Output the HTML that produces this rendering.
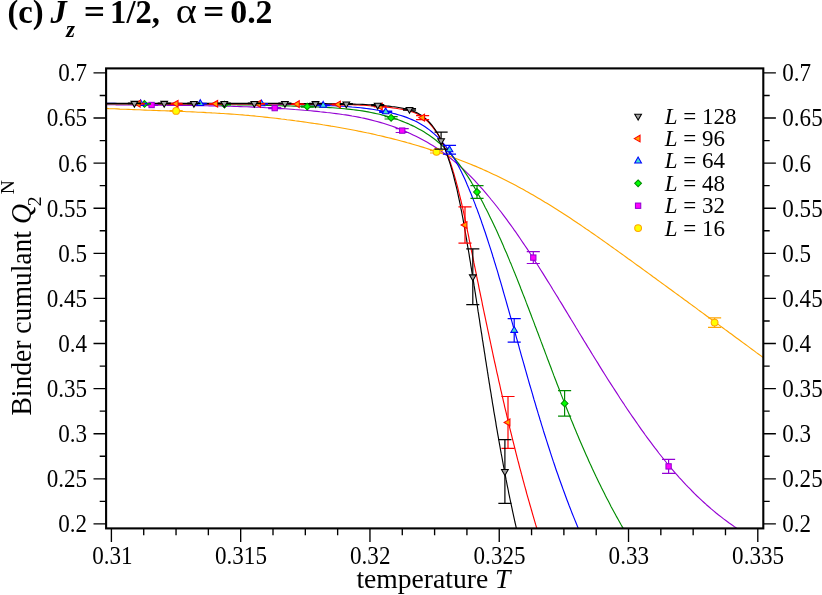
<!DOCTYPE html>
<html><head><meta charset="utf-8"><title>Binder cumulant</title>
<style>
html,body{margin:0;padding:0;background:#fff;}
body{width:822px;height:595px;overflow:hidden;position:relative;font-family:"Liberation Serif",serif;}
svg text{white-space:pre;}
</style></head><body>
<svg width="822" height="595" viewBox="0 0 822 595" style="position:absolute;left:0;top:0;will-change:transform;opacity:0.999">
<rect x="0" y="0" width="822" height="595" fill="#ffffff"/>
<defs><clipPath id="cp"><rect x="106.10" y="68.40" width="657.20" height="460.00"/></clipPath></defs>
<g clip-path="url(#cp)">
<path d="M106.0,108.4 108.8,108.6 111.6,108.7 114.4,108.8 117.1,108.9 119.9,109.1 122.7,109.2 125.5,109.3 128.3,109.4 131.1,109.5 133.9,109.6 136.7,109.7 139.4,109.8 142.2,110.0 145.0,110.1 147.8,110.2 150.6,110.3 153.4,110.4 156.2,110.5 159.0,110.6 161.7,110.7 164.5,110.8 167.3,110.9 170.1,111.0 172.9,111.1 175.7,111.2 178.5,111.3 181.3,111.4 184.1,111.5 186.8,111.7 189.6,111.8 192.4,111.9 195.2,112.0 198.0,112.2 200.8,112.3 203.6,112.4 206.3,112.6 209.1,112.7 211.9,112.9 214.7,113.0 217.5,113.2 220.3,113.4 223.1,113.5 225.8,113.7 228.6,113.9 231.4,114.1 234.2,114.3 237.0,114.5 239.7,114.7 242.5,114.9 245.3,115.2 248.1,115.4 250.9,115.7 253.6,115.9 256.4,116.2 259.2,116.5 262.0,116.8 264.7,117.1 267.5,117.4 270.3,117.7 273.1,118.0 275.8,118.3 278.6,118.6 281.4,119.0 284.1,119.3 286.9,119.7 289.7,120.0 292.4,120.4 295.2,120.8 298.0,121.1 300.7,121.5 303.5,121.9 306.3,122.3 309.0,122.7 311.8,123.1 314.5,123.5 317.3,123.9 320.0,124.3 322.8,124.8 325.5,125.2 328.3,125.6 331.1,126.1 333.8,126.5 336.5,127.0 339.3,127.5 342.0,128.0 344.8,128.5 347.5,129.0 350.3,129.5 353.0,130.0 355.7,130.5 358.5,131.1 361.2,131.6 363.9,132.2 366.7,132.8 369.4,133.3 372.1,133.9 374.9,134.5 377.6,135.2 380.3,135.8 383.0,136.4 385.7,137.1 388.4,137.7 391.2,138.4 393.9,139.1 396.6,139.8 399.3,140.5 402.0,141.2 404.7,141.9 407.4,142.7 410.1,143.4 412.7,144.2 415.4,145.0 418.1,145.8 420.8,146.6 423.5,147.4 426.1,148.2 428.8,149.1 431.4,149.9 434.1,150.8 436.7,151.7 439.4,152.6 442.0,153.5 444.7,154.4 447.3,155.3 449.9,156.3 452.5,157.2 455.2,158.2 457.8,159.2 460.4,160.2 463.0,161.2 465.6,162.2 468.1,163.2 470.7,164.3 473.3,165.4 475.9,166.4 478.4,167.5 481.0,168.6 483.5,169.8 486.1,170.9 488.6,172.0 491.1,173.2 493.7,174.4 496.2,175.6 498.7,176.8 501.2,178.0 503.7,179.2 506.2,180.5 508.6,181.7 511.1,183.0 513.6,184.3 516.0,185.6 518.5,186.9 520.9,188.3 523.4,189.6 525.8,191.0 528.2,192.3 530.6,193.7 533.1,195.1 535.5,196.5 537.9,197.9 540.3,199.3 542.6,200.7 545.0,202.2 547.4,203.6 549.8,205.1 552.2,206.6 554.5,208.0 556.9,209.5 559.2,211.0 561.6,212.5 563.9,214.0 566.3,215.6 568.6,217.1 570.9,218.6 573.3,220.2 575.6,221.7 577.9,223.3 580.2,224.8 582.5,226.4 584.8,228.0 587.1,229.6 589.4,231.1 591.7,232.7 594.0,234.3 596.3,235.9 598.6,237.5 600.9,239.1 603.2,240.8 605.5,242.4 607.8,244.0 610.0,245.6 612.3,247.2 614.6,248.9 616.9,250.5 619.1,252.1 621.4,253.7 623.7,255.4 625.9,257.0 628.2,258.7 630.5,260.3 632.7,261.9 635.0,263.6 637.2,265.2 639.5,266.8 641.8,268.5 644.0,270.1 646.3,271.8 648.5,273.4 650.8,275.0 653.0,276.7 655.3,278.3 657.5,280.0 659.8,281.6 662.0,283.3 664.3,284.9 666.5,286.5 668.8,288.2 671.0,289.8 673.3,291.5 675.5,293.1 677.8,294.8 680.0,296.4 682.3,298.0 684.5,299.7 686.8,301.3 689.0,303.0 691.3,304.6 693.5,306.3 695.8,307.9 698.0,309.6 700.2,311.2 702.5,312.9 704.7,314.5 707.0,316.2 709.2,317.8 711.5,319.5 713.7,321.1 716.0,322.8 718.2,324.4 720.5,326.1 722.7,327.7 724.9,329.4 727.2,331.0 729.4,332.7 731.7,334.3 733.9,336.0 736.2,337.7 738.4,339.3 740.7,341.0 742.9,342.6 745.2,344.3 747.4,345.9 749.7,347.6 751.9,349.2 754.2,350.9 756.4,352.6 758.7,354.2 761.0,355.9 763.2,357.5" fill="none" stroke="#ffa500" stroke-width="1.15" stroke-linejoin="round"/>
<path d="M106.0,104.6 109.2,104.7 112.4,104.7 115.6,104.8 118.8,104.8 122.0,104.8 125.2,104.9 128.4,104.9 131.6,105.0 134.8,105.0 138.0,105.0 141.2,105.0 144.4,105.1 147.6,105.1 150.8,105.1 154.0,105.1 157.2,105.2 160.4,105.2 163.6,105.2 166.8,105.3 170.0,105.3 173.2,105.3 176.4,105.3 179.6,105.4 182.8,105.4 186.0,105.4 189.2,105.5 192.4,105.5 195.6,105.6 198.8,105.6 202.0,105.7 205.2,105.7 208.4,105.8 211.6,105.8 214.8,105.9 218.0,106.0 221.2,106.0 224.4,106.1 227.6,106.2 230.8,106.3 234.0,106.4 237.2,106.5 240.4,106.6 243.6,106.7 246.8,106.8 250.0,106.9 253.2,107.1 256.4,107.2 259.6,107.3 262.8,107.5 266.0,107.7 269.2,107.8 272.4,108.0 275.6,108.2 278.8,108.4 282.0,108.6 285.2,108.8 288.3,109.0 291.5,109.2 294.7,109.5 297.9,109.7 301.1,110.0 304.3,110.3 307.5,110.5 310.7,110.8 313.9,111.1 317.0,111.4 320.2,111.8 323.4,112.1 326.6,112.5 329.8,112.8 333.0,113.2 336.1,113.6 339.3,114.0 342.5,114.5 345.7,114.9 348.8,115.4 352.0,116.0 355.1,116.5 358.3,117.1 361.4,117.8 364.6,118.4 367.7,119.1 370.8,119.9 373.9,120.7 377.0,121.5 380.1,122.4 383.2,123.3 386.3,124.3 389.3,125.3 392.4,126.3 395.4,127.4 398.4,128.5 401.4,129.7 404.3,130.9 407.3,132.2 410.2,133.5 413.1,134.9 416.0,136.3 418.9,137.7 421.7,139.2 424.5,140.7 427.3,142.3 430.0,143.9 432.7,145.6 435.4,147.3 438.1,149.1 440.7,150.9 443.3,152.7 445.9,154.6 448.4,156.6 450.9,158.5 453.4,160.6 455.8,162.6 458.3,164.7 460.6,166.8 463.0,169.0 465.3,171.2 467.6,173.4 469.9,175.6 472.1,177.9 474.3,180.2 476.5,182.6 478.6,184.9 480.8,187.3 482.9,189.7 485.0,192.1 487.1,194.6 489.1,197.0 491.1,199.5 493.2,202.0 495.2,204.5 497.2,207.0 499.1,209.5 501.1,212.0 503.0,214.6 504.9,217.1 506.8,219.7 508.7,222.3 510.6,224.9 512.5,227.5 514.3,230.1 516.2,232.7 518.0,235.4 519.8,238.0 521.6,240.7 523.4,243.3 525.2,246.0 527.0,248.6 528.8,251.3 530.5,254.0 532.3,256.7 534.0,259.4 535.7,262.1 537.5,264.8 539.2,267.5 540.9,270.2 542.6,272.9 544.3,275.6 546.0,278.4 547.7,281.1 549.4,283.8 551.1,286.5 552.7,289.3 554.4,292.0 556.1,294.7 557.8,297.4 559.4,300.2 561.1,302.9 562.8,305.6 564.4,308.4 566.1,311.1 567.7,313.8 569.4,316.6 571.0,319.3 572.7,322.0 574.4,324.8 576.0,327.5 577.7,330.2 579.3,333.0 581.0,335.7 582.6,338.4 584.3,341.2 586.0,343.9 587.6,346.6 589.3,349.3 591.0,352.1 592.6,354.8 594.3,357.5 596.0,360.2 597.7,362.9 599.3,365.6 601.0,368.4 602.7,371.1 604.4,373.8 606.1,376.5 607.8,379.2 609.5,381.9 611.3,384.6 613.0,387.3 614.7,389.9 616.5,392.6 618.2,395.3 619.9,398.0 621.7,400.7 623.5,403.3 625.2,406.0 627.0,408.7 628.8,411.3 630.6,414.0 632.4,416.6 634.2,419.2 636.1,421.9 637.9,424.5 639.7,427.1 641.6,429.8 643.5,432.4 645.3,435.0 647.2,437.6 649.1,440.2 651.0,442.7 653.0,445.3 654.9,447.9 656.9,450.4 658.8,453.0 660.8,455.5 662.8,458.0 664.8,460.5 666.8,463.0 668.9,465.5 670.9,467.9 673.0,470.3 675.1,472.8 677.2,475.2 679.3,477.6 681.5,479.9 683.7,482.3 685.8,484.6 688.0,486.9 690.3,489.2 692.5,491.5 694.8,493.8 697.0,496.0 699.3,498.2 701.7,500.4 704.0,502.5 706.4,504.7 708.8,506.8 711.2,508.9 713.6,510.9 716.1,513.0 718.6,515.0 721.1,516.9 723.6,518.9 726.2,520.8 728.8,522.7 731.4,524.5 734.0,526.4 736.7,528.2 739.4,529.9" fill="none" stroke="#9400d3" stroke-width="1.15" stroke-linejoin="round"/>
<path d="M106.0,103.8 108.9,103.8 111.9,103.8 114.9,103.8 117.9,103.8 120.9,103.8 123.9,103.8 126.9,103.8 129.9,103.9 132.8,103.9 135.8,103.9 138.8,103.9 141.8,103.9 144.8,103.9 147.8,103.9 150.7,104.0 153.7,104.0 156.7,104.0 159.7,104.0 162.7,104.0 165.7,104.0 168.6,104.1 171.6,104.1 174.6,104.1 177.6,104.1 180.6,104.1 183.5,104.2 186.5,104.2 189.5,104.2 192.5,104.2 195.5,104.3 198.4,104.3 201.4,104.3 204.4,104.3 207.4,104.4 210.3,104.4 213.3,104.4 216.3,104.5 219.3,104.5 222.3,104.6 225.2,104.6 228.2,104.6 231.2,104.7 234.2,104.7 237.2,104.8 240.1,104.8 243.1,104.9 246.1,104.9 249.1,105.0 252.1,105.0 255.0,105.1 258.0,105.2 261.0,105.2 264.0,105.3 267.0,105.4 269.9,105.4 272.9,105.5 275.9,105.6 278.9,105.7 281.9,105.8 284.8,105.8 287.8,105.9 290.8,106.0 293.8,106.1 296.8,106.2 299.8,106.3 302.8,106.4 305.7,106.5 308.7,106.6 311.7,106.7 314.7,106.9 317.7,107.0 320.7,107.1 323.7,107.3 326.6,107.4 329.6,107.6 332.6,107.8 335.6,108.0 338.6,108.2 341.5,108.5 344.5,108.8 347.5,109.1 350.4,109.4 353.4,109.7 356.3,110.1 359.3,110.5 362.2,110.9 365.1,111.4 368.0,111.9 371.0,112.5 373.9,113.1 376.8,113.7 379.7,114.3 382.5,115.1 385.4,115.8 388.3,116.6 391.1,117.5 394.0,118.4 396.8,119.3 399.6,120.3 402.4,121.4 405.2,122.5 408.0,123.6 410.7,124.9 413.4,126.1 416.1,127.5 418.7,128.9 421.3,130.3 423.9,131.8 426.4,133.4 428.8,135.0 431.3,136.7 433.7,138.5 436.0,140.3 438.3,142.2 440.5,144.1 442.7,146.1 444.9,148.1 447.0,150.2 449.1,152.4 451.1,154.5 453.1,156.8 455.0,159.0 456.9,161.3 458.7,163.7 460.5,166.1 462.3,168.5 464.0,170.9 465.7,173.4 467.4,175.9 469.0,178.4 470.6,180.9 472.1,183.5 473.7,186.1 475.2,188.7 476.7,191.3 478.1,193.9 479.6,196.6 481.0,199.2 482.4,201.8 483.8,204.5 485.1,207.2 486.5,209.8 487.9,212.5 489.2,215.2 490.5,217.9 491.8,220.5 493.1,223.2 494.4,225.9 495.6,228.6 496.9,231.3 498.1,234.0 499.3,236.8 500.6,239.5 501.8,242.2 503.0,244.9 504.1,247.7 505.3,250.4 506.5,253.1 507.7,255.9 508.8,258.6 509.9,261.4 511.1,264.1 512.2,266.9 513.3,269.6 514.5,272.4 515.6,275.2 516.7,277.9 517.8,280.7 518.9,283.5 520.0,286.2 521.0,289.0 522.1,291.8 523.2,294.6 524.3,297.3 525.4,300.1 526.4,302.9 527.5,305.7 528.6,308.5 529.6,311.2 530.7,314.0 531.7,316.8 532.8,319.6 533.9,322.4 534.9,325.2 536.0,328.0 537.0,330.8 538.1,333.5 539.1,336.3 540.2,339.1 541.2,341.9 542.3,344.7 543.3,347.5 544.4,350.3 545.4,353.1 546.5,355.9 547.5,358.7 548.6,361.5 549.6,364.2 550.7,367.0 551.7,369.8 552.8,372.6 553.8,375.4 554.9,378.2 556.0,381.0 557.0,383.7 558.1,386.5 559.2,389.3 560.3,392.1 561.3,394.9 562.4,397.6 563.5,400.4 564.6,403.2 565.7,406.0 566.8,408.7 567.9,411.5 569.0,414.3 570.1,417.0 571.2,419.8 572.4,422.5 573.5,425.3 574.6,428.1 575.8,430.8 576.9,433.6 578.1,436.3 579.2,439.0 580.4,441.8 581.6,444.5 582.8,447.2 584.0,450.0 585.2,452.7 586.4,455.4 587.6,458.1 588.8,460.9 590.0,463.6 591.3,466.3 592.5,469.0 593.8,471.7 595.1,474.4 596.3,477.1 597.6,479.8 598.9,482.5 600.2,485.1 601.5,487.8 602.9,490.5 604.2,493.1 605.5,495.8 606.9,498.5 608.3,501.1 609.7,503.8 611.0,506.4 612.4,509.0 613.9,511.7 615.3,514.3 616.7,516.9 618.2,519.5 619.7,522.2 621.1,524.8 622.6,527.4 624.1,529.9" fill="none" stroke="#008b00" stroke-width="1.15" stroke-linejoin="round"/>
<path d="M106.0,103.4 108.9,103.4 111.9,103.4 114.8,103.4 117.7,103.5 120.6,103.5 123.6,103.5 126.5,103.5 129.4,103.5 132.4,103.6 135.3,103.6 138.2,103.6 141.1,103.6 144.1,103.6 147.0,103.6 149.9,103.6 152.8,103.6 155.8,103.6 158.7,103.6 161.6,103.6 164.6,103.6 167.5,103.6 170.4,103.6 173.3,103.6 176.3,103.6 179.2,103.6 182.1,103.6 185.1,103.6 188.0,103.6 190.9,103.6 193.8,103.6 196.8,103.6 199.7,103.6 202.6,103.6 205.6,103.6 208.5,103.6 211.4,103.6 214.3,103.6 217.3,103.6 220.2,103.6 223.1,103.6 226.1,103.6 229.0,103.6 231.9,103.6 234.8,103.6 237.8,103.6 240.7,103.7 243.6,103.7 246.5,103.7 249.5,103.7 252.4,103.7 255.3,103.8 258.3,103.8 261.2,103.8 264.1,103.9 267.0,103.9 270.0,103.9 272.9,104.0 275.8,104.0 278.7,104.1 281.7,104.1 284.6,104.2 287.5,104.3 290.5,104.3 293.4,104.4 296.3,104.5 299.2,104.5 302.2,104.6 305.1,104.7 308.0,104.8 310.9,104.9 313.9,105.0 316.8,105.1 319.7,105.2 322.6,105.3 325.6,105.4 328.5,105.5 331.4,105.7 334.3,105.8 337.3,106.0 340.2,106.1 343.1,106.3 346.0,106.5 349.0,106.7 351.9,107.0 354.8,107.2 357.7,107.5 360.6,107.8 363.5,108.1 366.4,108.5 369.3,108.9 372.2,109.3 375.1,109.7 378.0,110.2 380.9,110.7 383.8,111.3 386.7,111.9 389.6,112.5 392.4,113.2 395.3,113.9 398.1,114.7 400.9,115.5 403.7,116.4 406.5,117.4 409.2,118.5 411.9,119.6 414.6,120.8 417.2,122.1 419.7,123.5 422.2,125.0 424.7,126.5 427.1,128.2 429.4,129.9 431.7,131.8 433.9,133.6 436.1,135.6 438.2,137.6 440.2,139.7 442.1,141.9 444.0,144.1 445.8,146.3 447.6,148.6 449.3,151.0 450.9,153.4 452.5,155.8 454.0,158.3 455.5,160.8 457.0,163.4 458.4,166.0 459.7,168.6 461.1,171.2 462.4,173.9 463.6,176.5 464.9,179.2 466.1,182.0 467.2,184.7 468.4,187.4 469.5,190.2 470.7,192.9 471.8,195.7 472.8,198.4 473.9,201.1 475.0,203.9 476.0,206.7 477.1,209.4 478.1,212.2 479.1,214.9 480.1,217.7 481.1,220.4 482.0,223.2 483.0,226.0 483.9,228.7 484.9,231.5 485.8,234.3 486.7,237.0 487.6,239.8 488.5,242.6 489.4,245.4 490.3,248.1 491.2,250.9 492.1,253.7 492.9,256.5 493.8,259.3 494.6,262.1 495.5,264.8 496.3,267.6 497.2,270.4 498.0,273.2 498.8,276.0 499.6,278.8 500.5,281.6 501.3,284.4 502.1,287.2 502.9,290.0 503.7,292.8 504.5,295.6 505.3,298.4 506.1,301.2 506.9,304.0 507.7,306.9 508.5,309.7 509.3,312.5 510.1,315.3 510.9,318.1 511.7,320.9 512.5,323.7 513.3,326.6 514.1,329.4 514.9,332.2 515.7,335.0 516.5,337.8 517.3,340.7 518.1,343.5 518.9,346.3 519.6,349.1 520.4,351.9 521.2,354.8 522.0,357.6 522.8,360.4 523.6,363.2 524.4,366.0 525.2,368.9 526.0,371.7 526.8,374.5 527.6,377.3 528.4,380.1 529.2,383.0 530.0,385.8 530.9,388.6 531.7,391.4 532.5,394.2 533.3,397.0 534.1,399.9 535.0,402.7 535.8,405.5 536.6,408.3 537.5,411.1 538.3,413.9 539.2,416.7 540.0,419.5 540.9,422.3 541.7,425.1 542.6,427.9 543.4,430.7 544.3,433.5 545.2,436.3 546.1,439.1 547.0,441.9 547.9,444.7 548.8,447.5 549.7,450.3 550.6,453.1 551.5,455.9 552.4,458.6 553.3,461.4 554.3,464.2 555.2,467.0 556.1,469.7 557.1,472.5 558.1,475.3 559.0,478.0 560.0,480.8 561.0,483.5 562.0,486.3 563.0,489.1 564.0,491.8 565.0,494.5 566.0,497.3 567.0,500.0 568.1,502.8 569.1,505.5 570.2,508.2 571.2,510.9 572.3,513.7 573.4,516.4 574.5,519.1 575.6,521.8 576.7,524.5 577.8,527.2 578.9,529.9" fill="none" stroke="#0000ff" stroke-width="1.15" stroke-linejoin="round"/>
<path d="M106.0,103.7 108.9,103.7 111.8,103.7 114.7,103.7 117.6,103.7 120.5,103.7 123.4,103.7 126.3,103.7 129.2,103.7 132.1,103.7 135.0,103.7 137.9,103.7 140.8,103.7 143.7,103.7 146.6,103.7 149.5,103.8 152.4,103.8 155.3,103.8 158.1,103.8 161.0,103.8 163.9,103.8 166.8,103.8 169.7,103.8 172.6,103.8 175.5,103.8 178.4,103.8 181.3,103.8 184.2,103.8 187.1,103.8 190.0,103.8 192.9,103.8 195.8,103.8 198.7,103.8 201.6,103.8 204.5,103.8 207.4,103.8 210.3,103.8 213.2,103.8 216.1,103.8 219.0,103.8 221.9,103.8 224.8,103.8 227.7,103.8 230.6,103.8 233.5,103.8 236.4,103.9 239.3,103.9 242.2,103.9 245.1,103.9 248.0,103.9 250.9,103.9 253.8,103.9 256.7,103.9 259.6,103.9 262.5,103.9 265.4,103.9 268.3,103.9 271.1,104.0 274.0,104.0 276.9,104.0 279.8,104.0 282.7,104.0 285.6,104.0 288.5,104.0 291.4,104.1 294.3,104.1 297.2,104.1 300.1,104.1 303.0,104.1 305.9,104.2 308.8,104.2 311.7,104.2 314.6,104.2 317.5,104.3 320.4,104.3 323.3,104.3 326.2,104.3 329.1,104.4 332.0,104.4 334.9,104.4 337.8,104.5 340.7,104.5 343.6,104.6 346.5,104.7 349.4,104.7 352.2,104.8 355.1,104.9 358.0,105.0 360.9,105.2 363.8,105.3 366.7,105.5 369.6,105.7 372.5,105.9 375.4,106.1 378.3,106.3 381.2,106.6 384.1,106.9 387.0,107.2 389.9,107.5 392.8,107.9 395.7,108.2 398.6,108.7 401.5,109.1 404.4,109.7 407.2,110.3 409.9,111.1 412.6,112.0 415.3,113.0 417.8,114.3 420.3,115.7 422.6,117.3 424.9,119.0 427.0,120.9 429.1,122.9 431.0,125.1 432.9,127.3 434.6,129.6 436.3,131.9 437.9,134.4 439.3,136.8 440.7,139.4 442.0,142.0 443.3,144.6 444.5,147.2 445.6,149.9 446.7,152.7 447.8,155.4 448.8,158.1 449.7,160.9 450.7,163.7 451.6,166.4 452.5,169.2 453.3,172.0 454.2,174.8 455.0,177.6 455.8,180.4 456.5,183.1 457.3,185.9 458.0,188.7 458.7,191.6 459.4,194.4 460.1,197.2 460.8,200.0 461.5,202.8 462.1,205.6 462.7,208.4 463.4,211.3 464.0,214.1 464.6,216.9 465.2,219.7 465.8,222.6 466.3,225.4 466.9,228.2 467.5,231.1 468.1,233.9 468.7,236.7 469.2,239.6 469.8,242.4 470.4,245.2 471.0,248.1 471.5,250.9 472.1,253.7 472.7,256.6 473.3,259.4 473.8,262.2 474.4,265.1 475.0,267.9 475.6,270.8 476.2,273.6 476.7,276.4 477.3,279.3 477.9,282.1 478.5,284.9 479.0,287.8 479.6,290.6 480.2,293.4 480.8,296.3 481.4,299.1 482.0,302.0 482.5,304.8 483.1,307.6 483.7,310.5 484.3,313.3 484.9,316.1 485.5,319.0 486.1,321.8 486.7,324.7 487.3,327.5 487.9,330.3 488.5,333.2 489.1,336.0 489.7,338.8 490.3,341.7 490.9,344.5 491.5,347.3 492.1,350.2 492.7,353.0 493.3,355.8 493.9,358.7 494.5,361.5 495.2,364.3 495.8,367.2 496.4,370.0 497.0,372.8 497.7,375.7 498.3,378.5 498.9,381.3 499.6,384.1 500.2,387.0 500.8,389.8 501.5,392.6 502.1,395.5 502.8,398.3 503.4,401.1 504.1,403.9 504.7,406.8 505.4,409.6 506.1,412.4 506.7,415.2 507.4,418.0 508.1,420.9 508.7,423.7 509.4,426.5 510.1,429.3 510.8,432.1 511.5,434.9 512.2,437.8 512.9,440.6 513.6,443.4 514.3,446.2 515.0,449.0 515.7,451.8 516.4,454.6 517.1,457.4 517.8,460.2 518.6,463.0 519.3,465.8 520.0,468.6 520.8,471.4 521.5,474.2 522.3,477.0 523.0,479.8 523.8,482.6 524.5,485.4 525.3,488.2 526.1,491.0 526.8,493.8 527.6,496.6 528.4,499.4 529.2,502.2 530.0,505.0 530.8,507.7 531.6,510.5 532.4,513.3 533.2,516.1 534.0,518.9 534.8,521.6 535.6,524.4 536.5,527.2 537.3,530.0" fill="none" stroke="#ff0000" stroke-width="1.15" stroke-linejoin="round"/>
<path d="M106.0,103.3 108.9,103.3 111.8,103.3 114.7,103.3 117.5,103.3 120.4,103.3 123.3,103.3 126.2,103.3 129.1,103.3 132.0,103.3 134.8,103.3 137.7,103.3 140.6,103.3 143.5,103.3 146.4,103.3 149.3,103.3 152.1,103.3 155.0,103.3 157.9,103.3 160.8,103.3 163.7,103.3 166.6,103.3 169.5,103.3 172.3,103.3 175.2,103.3 178.1,103.3 181.0,103.3 183.9,103.3 186.8,103.3 189.6,103.3 192.5,103.3 195.4,103.3 198.3,103.3 201.2,103.3 204.1,103.3 206.9,103.4 209.8,103.4 212.7,103.4 215.6,103.4 218.5,103.4 221.4,103.4 224.3,103.4 227.1,103.4 230.0,103.4 232.9,103.4 235.8,103.4 238.7,103.4 241.6,103.4 244.4,103.4 247.3,103.4 250.2,103.4 253.1,103.4 256.0,103.4 258.9,103.4 261.8,103.4 264.6,103.4 267.5,103.4 270.4,103.4 273.3,103.4 276.2,103.4 279.1,103.4 281.9,103.5 284.8,103.5 287.7,103.5 290.6,103.5 293.5,103.5 296.4,103.5 299.2,103.5 302.1,103.5 305.0,103.5 307.9,103.5 310.8,103.6 313.7,103.6 316.5,103.6 319.4,103.6 322.3,103.6 325.2,103.6 328.1,103.7 331.0,103.7 333.8,103.7 336.7,103.7 339.6,103.8 342.5,103.8 345.4,103.9 348.3,104.0 351.2,104.0 354.0,104.1 356.9,104.2 359.8,104.3 362.7,104.4 365.6,104.5 368.5,104.7 371.4,104.8 374.3,105.0 377.2,105.2 380.1,105.4 383.0,105.6 385.8,105.9 388.7,106.1 391.6,106.5 394.5,106.8 397.3,107.3 400.2,107.8 403.0,108.3 405.8,109.0 408.6,109.7 411.3,110.6 414.0,111.5 416.6,112.6 419.1,113.9 421.6,115.4 423.8,117.1 426.0,118.9 428.1,120.9 430.0,123.0 431.9,125.2 433.7,127.5 435.3,129.9 436.9,132.3 438.4,134.8 439.8,137.4 441.1,139.9 442.3,142.5 443.4,145.2 444.5,147.8 445.6,150.5 446.6,153.2 447.5,155.9 448.4,158.7 449.3,161.4 450.2,164.1 451.0,166.9 451.8,169.7 452.6,172.4 453.4,175.2 454.1,178.0 454.8,180.8 455.5,183.5 456.2,186.3 456.9,189.1 457.5,192.0 458.1,194.8 458.7,197.6 459.3,200.4 459.9,203.2 460.5,206.1 461.0,208.9 461.6,211.7 462.1,214.5 462.7,217.4 463.2,220.2 463.7,223.1 464.2,225.9 464.7,228.8 465.2,231.6 465.7,234.4 466.2,237.3 466.7,240.1 467.1,243.0 467.6,245.8 468.1,248.7 468.6,251.5 469.1,254.4 469.5,257.2 470.0,260.1 470.5,262.9 470.9,265.8 471.4,268.6 471.8,271.5 472.3,274.3 472.8,277.2 473.2,280.0 473.7,282.9 474.1,285.7 474.6,288.6 475.0,291.4 475.5,294.3 475.9,297.1 476.4,300.0 476.8,302.8 477.3,305.7 477.7,308.5 478.1,311.4 478.6,314.2 479.0,317.1 479.5,319.9 479.9,322.8 480.3,325.6 480.8,328.5 481.2,331.3 481.7,334.2 482.1,337.0 482.5,339.9 483.0,342.7 483.4,345.6 483.9,348.4 484.3,351.3 484.8,354.1 485.2,357.0 485.6,359.8 486.1,362.7 486.5,365.5 487.0,368.4 487.4,371.2 487.9,374.1 488.3,376.9 488.8,379.8 489.2,382.6 489.7,385.4 490.1,388.3 490.6,391.1 491.1,394.0 491.5,396.8 492.0,399.7 492.4,402.5 492.9,405.4 493.4,408.2 493.8,411.1 494.3,413.9 494.8,416.7 495.3,419.6 495.8,422.4 496.2,425.3 496.7,428.1 497.2,430.9 497.7,433.8 498.2,436.6 498.7,439.5 499.2,442.3 499.7,445.1 500.2,448.0 500.7,450.8 501.2,453.7 501.8,456.5 502.3,459.3 502.8,462.2 503.3,465.0 503.9,467.8 504.4,470.7 504.9,473.5 505.5,476.3 506.0,479.2 506.6,482.0 507.1,484.8 507.7,487.6 508.3,490.5 508.8,493.3 509.4,496.1 510.0,499.0 510.6,501.8 511.2,504.6 511.8,507.4 512.4,510.3 513.0,513.1 513.6,515.9 514.2,518.7 514.8,521.5 515.5,524.4 516.1,527.2 516.7,530.0" fill="none" stroke="#000000" stroke-width="1.15" stroke-linejoin="round"/>
<path d="M176.10,110.60 V111.20 M169.55,110.60 H182.65 M169.55,111.20 H182.65" stroke="#ffa500" stroke-width="1.2" fill="none"/>
<circle cx="176.10" cy="110.90" r="3.4" fill="#ffff00" stroke="#ffa500" stroke-width="1.05"/>
<path d="M436.50,150.60 V153.00 M429.95,150.60 H443.05 M429.95,153.00 H443.05" stroke="#ffa500" stroke-width="1.2" fill="none"/>
<circle cx="436.50" cy="151.80" r="3.4" fill="#ffff00" stroke="#ffa500" stroke-width="1.05"/>
<path d="M714.60,317.80 V327.40 M708.05,317.80 H721.15 M708.05,327.40 H721.15" stroke="#ffa500" stroke-width="1.2" fill="none"/>
<circle cx="714.60" cy="322.60" r="3.4" fill="#ffff00" stroke="#ffa500" stroke-width="1.05"/>
<path d="M151.60,104.70 V105.30 M145.05,104.70 H158.15 M145.05,105.30 H158.15" stroke="#9400d3" stroke-width="1.2" fill="none"/>
<rect x="148.95" y="102.35" width="5.30" height="5.30" fill="#ff00ff" stroke="#9400d3" stroke-width="1.05"/>
<path d="M274.70,107.50 V108.70 M268.15,107.50 H281.25 M268.15,108.70 H281.25" stroke="#9400d3" stroke-width="1.2" fill="none"/>
<rect x="272.05" y="105.45" width="5.30" height="5.30" fill="#ff00ff" stroke="#9400d3" stroke-width="1.05"/>
<path d="M402.20,128.70 V132.50 M395.65,128.70 H408.75 M395.65,132.50 H408.75" stroke="#9400d3" stroke-width="1.2" fill="none"/>
<rect x="399.55" y="127.95" width="5.30" height="5.30" fill="#ff00ff" stroke="#9400d3" stroke-width="1.05"/>
<path d="M533.30,251.70 V263.50 M526.75,251.70 H539.85 M526.75,263.50 H539.85" stroke="#9400d3" stroke-width="1.2" fill="none"/>
<rect x="530.65" y="254.95" width="5.30" height="5.30" fill="#ff00ff" stroke="#9400d3" stroke-width="1.05"/>
<path d="M668.60,459.40 V473.40 M662.05,459.40 H675.15 M662.05,473.40 H675.15" stroke="#9400d3" stroke-width="1.2" fill="none"/>
<rect x="665.95" y="463.75" width="5.30" height="5.30" fill="#ff00ff" stroke="#9400d3" stroke-width="1.05"/>
<path d="M144.50,103.63 V104.23 M137.95,103.63 H151.05 M137.95,104.23 H151.05" stroke="#008b00" stroke-width="1.2" fill="none"/>
<polygon points="144.50,100.53 147.90,103.93 144.50,107.33 141.10,103.93" fill="#00ff00" stroke="#008b00" stroke-width="1.05" stroke-linejoin="miter"/>
<path d="M224.50,104.28 V104.88 M217.95,104.28 H231.05 M217.95,104.88 H231.05" stroke="#008b00" stroke-width="1.2" fill="none"/>
<polygon points="224.50,101.18 227.90,104.58 224.50,107.98 221.10,104.58" fill="#00ff00" stroke="#008b00" stroke-width="1.05" stroke-linejoin="miter"/>
<path d="M307.20,106.08 V107.08 M300.65,106.08 H313.75 M300.65,107.08 H313.75" stroke="#008b00" stroke-width="1.2" fill="none"/>
<polygon points="307.20,103.18 310.60,106.58 307.20,109.98 303.80,106.58" fill="#00ff00" stroke="#008b00" stroke-width="1.05" stroke-linejoin="miter"/>
<path d="M391.10,116.60 V119.00 M384.55,116.60 H397.65 M384.55,119.00 H397.65" stroke="#008b00" stroke-width="1.2" fill="none"/>
<polygon points="391.10,114.40 394.50,117.80 391.10,121.20 387.70,117.80" fill="#00ff00" stroke="#008b00" stroke-width="1.05" stroke-linejoin="miter"/>
<path d="M477.00,185.60 V198.40 M470.45,185.60 H483.55 M470.45,198.40 H483.55" stroke="#008b00" stroke-width="1.2" fill="none"/>
<polygon points="477.00,188.60 480.40,192.00 477.00,195.40 473.60,192.00" fill="#00ff00" stroke="#008b00" stroke-width="1.05" stroke-linejoin="miter"/>
<path d="M564.60,390.60 V416.20 M558.05,390.60 H571.15 M558.05,416.20 H571.15" stroke="#008b00" stroke-width="1.2" fill="none"/>
<polygon points="564.60,400.00 568.00,403.40 564.60,406.80 561.20,403.40" fill="#00ff00" stroke="#008b00" stroke-width="1.05" stroke-linejoin="miter"/>
<path d="M140.60,103.28 V103.88 M134.05,103.28 H147.15 M134.05,103.88 H147.15" stroke="#0000ff" stroke-width="1.2" fill="none"/>
<polygon points="140.60,99.68 143.98,105.53 137.22,105.53" fill="#40e0d0" stroke="#0000ff" stroke-width="1.05" stroke-linejoin="miter"/>
<path d="M200.30,103.27 V103.87 M193.75,103.27 H206.85 M193.75,103.87 H206.85" stroke="#0000ff" stroke-width="1.2" fill="none"/>
<polygon points="200.30,99.67 203.68,105.52 196.92,105.52" fill="#40e0d0" stroke="#0000ff" stroke-width="1.05" stroke-linejoin="miter"/>
<path d="M261.40,103.53 V104.13 M254.85,103.53 H267.95 M254.85,104.13 H267.95" stroke="#0000ff" stroke-width="1.2" fill="none"/>
<polygon points="261.40,99.93 264.78,105.78 258.02,105.78" fill="#40e0d0" stroke="#0000ff" stroke-width="1.05" stroke-linejoin="miter"/>
<path d="M323.20,104.92 V105.72 M316.65,104.92 H329.75 M316.65,105.72 H329.75" stroke="#0000ff" stroke-width="1.2" fill="none"/>
<polygon points="323.20,101.42 326.58,107.27 319.82,107.27" fill="#40e0d0" stroke="#0000ff" stroke-width="1.05" stroke-linejoin="miter"/>
<path d="M385.70,111.20 V112.40 M379.15,111.20 H392.25 M379.15,112.40 H392.25" stroke="#0000ff" stroke-width="1.2" fill="none"/>
<polygon points="385.70,107.90 389.08,113.75 382.32,113.75" fill="#40e0d0" stroke="#0000ff" stroke-width="1.05" stroke-linejoin="miter"/>
<path d="M449.50,145.40 V154.20 M442.95,145.40 H456.05 M442.95,154.20 H456.05" stroke="#0000ff" stroke-width="1.2" fill="none"/>
<polygon points="449.50,145.90 452.88,151.75 446.12,151.75" fill="#40e0d0" stroke="#0000ff" stroke-width="1.05" stroke-linejoin="miter"/>
<path d="M514.20,318.60 V342.20 M507.65,318.60 H520.75 M507.65,342.20 H520.75" stroke="#0000ff" stroke-width="1.2" fill="none"/>
<polygon points="514.20,326.50 517.58,332.35 510.82,332.35" fill="#40e0d0" stroke="#0000ff" stroke-width="1.05" stroke-linejoin="miter"/>
<path d="M138.20,103.44 V104.04 M131.65,103.44 H144.75 M131.65,104.04 H144.75" stroke="#ff0000" stroke-width="1.2" fill="none"/>
<polygon points="134.30,103.74 140.15,100.36 140.15,107.11" fill="#ffa500" stroke="#ff0000" stroke-width="1.05" stroke-linejoin="miter"/>
<path d="M176.10,103.47 V104.07 M169.55,103.47 H182.65 M169.55,104.07 H182.65" stroke="#ff0000" stroke-width="1.2" fill="none"/>
<polygon points="172.20,103.77 178.05,100.40 178.05,107.15" fill="#ffa500" stroke="#ff0000" stroke-width="1.05" stroke-linejoin="miter"/>
<path d="M215.70,103.51 V104.11 M209.15,103.51 H222.25 M209.15,104.11 H222.25" stroke="#ff0000" stroke-width="1.2" fill="none"/>
<polygon points="211.80,103.81 217.65,100.44 217.65,107.19" fill="#ffa500" stroke="#ff0000" stroke-width="1.05" stroke-linejoin="miter"/>
<path d="M258.60,103.61 V104.21 M252.05,103.61 H265.15 M252.05,104.21 H265.15" stroke="#ff0000" stroke-width="1.2" fill="none"/>
<polygon points="254.70,103.91 260.55,100.53 260.55,107.29" fill="#ffa500" stroke="#ff0000" stroke-width="1.05" stroke-linejoin="miter"/>
<path d="M297.30,103.80 V104.40 M290.75,103.80 H303.85 M290.75,104.40 H303.85" stroke="#ff0000" stroke-width="1.2" fill="none"/>
<polygon points="293.40,104.10 299.25,100.72 299.25,107.48" fill="#ffa500" stroke="#ff0000" stroke-width="1.05" stroke-linejoin="miter"/>
<path d="M338.40,104.09 V104.89 M331.85,104.09 H344.95 M331.85,104.89 H344.95" stroke="#ff0000" stroke-width="1.2" fill="none"/>
<polygon points="334.50,104.49 340.35,101.11 340.35,107.87" fill="#ffa500" stroke="#ff0000" stroke-width="1.05" stroke-linejoin="miter"/>
<path d="M380.30,105.99 V106.99 M373.75,105.99 H386.85 M373.75,106.99 H386.85" stroke="#ff0000" stroke-width="1.2" fill="none"/>
<polygon points="376.40,106.49 382.25,103.11 382.25,109.87" fill="#ffa500" stroke="#ff0000" stroke-width="1.05" stroke-linejoin="miter"/>
<path d="M422.60,115.60 V119.60 M416.05,115.60 H429.15 M416.05,119.60 H429.15" stroke="#ff0000" stroke-width="1.2" fill="none"/>
<polygon points="418.70,117.60 424.55,114.22 424.55,120.98" fill="#ffa500" stroke="#ff0000" stroke-width="1.05" stroke-linejoin="miter"/>
<path d="M465.00,206.90 V243.10 M458.45,206.90 H471.55 M458.45,243.10 H471.55" stroke="#ff0000" stroke-width="1.2" fill="none"/>
<polygon points="461.10,225.00 466.95,221.62 466.95,228.38" fill="#ffa500" stroke="#ff0000" stroke-width="1.05" stroke-linejoin="miter"/>
<path d="M508.00,396.50 V448.30 M501.45,396.50 H514.55 M501.45,448.30 H514.55" stroke="#ff0000" stroke-width="1.2" fill="none"/>
<polygon points="504.10,422.40 509.95,419.02 509.95,425.78" fill="#ffa500" stroke="#ff0000" stroke-width="1.05" stroke-linejoin="miter"/>
<path d="M134.40,103.02 V103.62 M127.85,103.02 H140.95 M127.85,103.62 H140.95" stroke="#000000" stroke-width="1.2" fill="none"/>
<polygon points="134.40,107.22 131.02,101.37 137.78,101.37" fill="#a0a0a0" stroke="#000000" stroke-width="1.05" stroke-linejoin="miter"/>
<path d="M164.20,103.04 V103.64 M157.65,103.04 H170.75 M157.65,103.64 H170.75" stroke="#000000" stroke-width="1.2" fill="none"/>
<polygon points="164.20,107.24 160.82,101.39 167.58,101.39" fill="#a0a0a0" stroke="#000000" stroke-width="1.05" stroke-linejoin="miter"/>
<path d="M193.90,103.05 V103.65 M187.35,103.05 H200.45 M187.35,103.65 H200.45" stroke="#000000" stroke-width="1.2" fill="none"/>
<polygon points="193.90,107.25 190.52,101.40 197.28,101.40" fill="#a0a0a0" stroke="#000000" stroke-width="1.05" stroke-linejoin="miter"/>
<path d="M224.30,103.06 V103.66 M217.75,103.06 H230.85 M217.75,103.66 H230.85" stroke="#000000" stroke-width="1.2" fill="none"/>
<polygon points="224.30,107.26 220.92,101.41 227.68,101.41" fill="#a0a0a0" stroke="#000000" stroke-width="1.05" stroke-linejoin="miter"/>
<path d="M254.30,103.09 V103.69 M247.75,103.09 H260.85 M247.75,103.69 H260.85" stroke="#000000" stroke-width="1.2" fill="none"/>
<polygon points="254.30,107.29 250.92,101.44 257.68,101.44" fill="#a0a0a0" stroke="#000000" stroke-width="1.05" stroke-linejoin="miter"/>
<path d="M284.90,103.16 V103.76 M278.35,103.16 H291.45 M278.35,103.76 H291.45" stroke="#000000" stroke-width="1.2" fill="none"/>
<polygon points="284.90,107.36 281.52,101.51 288.28,101.51" fill="#a0a0a0" stroke="#000000" stroke-width="1.05" stroke-linejoin="miter"/>
<path d="M315.50,103.27 V103.87 M308.95,103.27 H322.05 M308.95,103.87 H322.05" stroke="#000000" stroke-width="1.2" fill="none"/>
<polygon points="315.50,107.47 312.12,101.62 318.88,101.62" fill="#a0a0a0" stroke="#000000" stroke-width="1.05" stroke-linejoin="miter"/>
<path d="M346.30,103.51 V104.31 M339.75,103.51 H352.85 M339.75,104.31 H352.85" stroke="#000000" stroke-width="1.2" fill="none"/>
<polygon points="346.30,107.81 342.92,101.96 349.68,101.96" fill="#a0a0a0" stroke="#000000" stroke-width="1.05" stroke-linejoin="miter"/>
<path d="M377.70,104.72 V105.72 M371.15,104.72 H384.25 M371.15,105.72 H384.25" stroke="#000000" stroke-width="1.2" fill="none"/>
<polygon points="377.70,109.12 374.32,103.27 381.08,103.27" fill="#a0a0a0" stroke="#000000" stroke-width="1.05" stroke-linejoin="miter"/>
<path d="M409.50,108.60 V110.20 M402.95,108.60 H416.05 M402.95,110.20 H416.05" stroke="#000000" stroke-width="1.2" fill="none"/>
<polygon points="409.50,113.30 406.12,107.45 412.88,107.45" fill="#a0a0a0" stroke="#000000" stroke-width="1.05" stroke-linejoin="miter"/>
<path d="M441.10,132.10 V149.10 M434.55,132.10 H447.65 M434.55,149.10 H447.65" stroke="#000000" stroke-width="1.2" fill="none"/>
<polygon points="441.10,144.50 437.72,138.65 444.48,138.65" fill="#a0a0a0" stroke="#000000" stroke-width="1.05" stroke-linejoin="miter"/>
<path d="M472.80,248.90 V304.70 M466.25,248.90 H479.35 M466.25,304.70 H479.35" stroke="#000000" stroke-width="1.2" fill="none"/>
<polygon points="472.80,280.70 469.42,274.85 476.18,274.85" fill="#a0a0a0" stroke="#000000" stroke-width="1.05" stroke-linejoin="miter"/>
<path d="M504.90,439.70 V503.30 M498.35,439.70 H511.45 M498.35,503.30 H511.45" stroke="#000000" stroke-width="1.2" fill="none"/>
<polygon points="504.90,475.40 501.52,469.55 508.28,469.55" fill="#a0a0a0" stroke="#000000" stroke-width="1.05" stroke-linejoin="miter"/>
</g>
<rect x="106.10" y="68.40" width="657.20" height="460.00" fill="none" stroke="#000" stroke-width="2.1"/>
<path d="M111.40,528.40 v13.50 M143.72,528.40 v6.90 M176.04,528.40 v6.90 M208.36,528.40 v6.90 M240.68,528.40 v13.50 M273.00,528.40 v6.90 M305.32,528.40 v6.90 M337.64,528.40 v6.90 M369.96,528.40 v13.50 M402.28,528.40 v6.90 M434.60,528.40 v6.90 M466.92,528.40 v6.90 M499.24,528.40 v13.50 M531.56,528.40 v6.90 M563.88,528.40 v6.90 M596.20,528.40 v6.90 M628.52,528.40 v13.50 M660.84,528.40 v6.90 M693.16,528.40 v6.90 M725.48,528.40 v6.90 M757.80,528.40 v13.50 M106.10,523.90 h-12.60 M763.30,523.90 h12.60 M106.10,501.35 h-6.40 M763.30,501.35 h6.40 M106.10,478.80 h-12.60 M763.30,478.80 h12.60 M106.10,456.25 h-6.40 M763.30,456.25 h6.40 M106.10,433.70 h-12.60 M763.30,433.70 h12.60 M106.10,411.15 h-6.40 M763.30,411.15 h6.40 M106.10,388.60 h-12.60 M763.30,388.60 h12.60 M106.10,366.05 h-6.40 M763.30,366.05 h6.40 M106.10,343.50 h-12.60 M763.30,343.50 h12.60 M106.10,320.95 h-6.40 M763.30,320.95 h6.40 M106.10,298.40 h-12.60 M763.30,298.40 h12.60 M106.10,275.85 h-6.40 M763.30,275.85 h6.40 M106.10,253.30 h-12.60 M763.30,253.30 h12.60 M106.10,230.75 h-6.40 M763.30,230.75 h6.40 M106.10,208.20 h-12.60 M763.30,208.20 h12.60 M106.10,185.65 h-6.40 M763.30,185.65 h6.40 M106.10,163.10 h-12.60 M763.30,163.10 h12.60 M106.10,140.55 h-6.40 M763.30,140.55 h6.40 M106.10,118.00 h-12.60 M763.30,118.00 h12.60 M106.10,95.45 h-6.40 M763.30,95.45 h6.40 M106.10,72.90 h-12.60 M763.30,72.90 h12.60" stroke="#000" stroke-width="1.35" fill="none"/>
<text transform="translate(112.40,564.30) scale(1.0000,1.0650)" font-family="Liberation Serif, serif" font-size="23.10" fill="#000" text-anchor="middle" xml:space="preserve" >0.31</text>
<text transform="translate(240.98,564.30) scale(1.0000,1.0650)" font-family="Liberation Serif, serif" font-size="23.10" fill="#000" text-anchor="middle" xml:space="preserve" >0.315</text>
<text transform="translate(370.26,564.30) scale(1.0000,1.0650)" font-family="Liberation Serif, serif" font-size="23.10" fill="#000" text-anchor="middle" xml:space="preserve" >0.32</text>
<text transform="translate(499.54,564.30) scale(1.0000,1.0650)" font-family="Liberation Serif, serif" font-size="23.10" fill="#000" text-anchor="middle" xml:space="preserve" >0.325</text>
<text transform="translate(628.82,564.30) scale(1.0000,1.0650)" font-family="Liberation Serif, serif" font-size="23.10" fill="#000" text-anchor="middle" xml:space="preserve" >0.33</text>
<text transform="translate(758.10,564.30) scale(1.0000,1.0650)" font-family="Liberation Serif, serif" font-size="23.10" fill="#000" text-anchor="middle" xml:space="preserve" >0.335</text>
<text transform="translate(87.10,532.35) scale(1.0000,1.0650)" font-family="Liberation Serif, serif" font-size="23.10" fill="#000" text-anchor="end" xml:space="preserve" >0.2</text>
<text transform="translate(782.30,532.35) scale(1.0000,1.0650)" font-family="Liberation Serif, serif" font-size="23.10" fill="#000" text-anchor="start" xml:space="preserve" >0.2</text>
<text transform="translate(87.10,487.25) scale(1.0000,1.0650)" font-family="Liberation Serif, serif" font-size="23.10" fill="#000" text-anchor="end" xml:space="preserve" >0.25</text>
<text transform="translate(782.30,487.25) scale(1.0000,1.0650)" font-family="Liberation Serif, serif" font-size="23.10" fill="#000" text-anchor="start" xml:space="preserve" >0.25</text>
<text transform="translate(87.10,442.15) scale(1.0000,1.0650)" font-family="Liberation Serif, serif" font-size="23.10" fill="#000" text-anchor="end" xml:space="preserve" >0.3</text>
<text transform="translate(782.30,442.15) scale(1.0000,1.0650)" font-family="Liberation Serif, serif" font-size="23.10" fill="#000" text-anchor="start" xml:space="preserve" >0.3</text>
<text transform="translate(87.10,397.05) scale(1.0000,1.0650)" font-family="Liberation Serif, serif" font-size="23.10" fill="#000" text-anchor="end" xml:space="preserve" >0.35</text>
<text transform="translate(782.30,397.05) scale(1.0000,1.0650)" font-family="Liberation Serif, serif" font-size="23.10" fill="#000" text-anchor="start" xml:space="preserve" >0.35</text>
<text transform="translate(87.10,351.95) scale(1.0000,1.0650)" font-family="Liberation Serif, serif" font-size="23.10" fill="#000" text-anchor="end" xml:space="preserve" >0.4</text>
<text transform="translate(782.30,351.95) scale(1.0000,1.0650)" font-family="Liberation Serif, serif" font-size="23.10" fill="#000" text-anchor="start" xml:space="preserve" >0.4</text>
<text transform="translate(87.10,306.85) scale(1.0000,1.0650)" font-family="Liberation Serif, serif" font-size="23.10" fill="#000" text-anchor="end" xml:space="preserve" >0.45</text>
<text transform="translate(782.30,306.85) scale(1.0000,1.0650)" font-family="Liberation Serif, serif" font-size="23.10" fill="#000" text-anchor="start" xml:space="preserve" >0.45</text>
<text transform="translate(87.10,261.75) scale(1.0000,1.0650)" font-family="Liberation Serif, serif" font-size="23.10" fill="#000" text-anchor="end" xml:space="preserve" >0.5</text>
<text transform="translate(782.30,261.75) scale(1.0000,1.0650)" font-family="Liberation Serif, serif" font-size="23.10" fill="#000" text-anchor="start" xml:space="preserve" >0.5</text>
<text transform="translate(87.10,216.65) scale(1.0000,1.0650)" font-family="Liberation Serif, serif" font-size="23.10" fill="#000" text-anchor="end" xml:space="preserve" >0.55</text>
<text transform="translate(782.30,216.65) scale(1.0000,1.0650)" font-family="Liberation Serif, serif" font-size="23.10" fill="#000" text-anchor="start" xml:space="preserve" >0.55</text>
<text transform="translate(87.10,171.55) scale(1.0000,1.0650)" font-family="Liberation Serif, serif" font-size="23.10" fill="#000" text-anchor="end" xml:space="preserve" >0.6</text>
<text transform="translate(782.30,171.55) scale(1.0000,1.0650)" font-family="Liberation Serif, serif" font-size="23.10" fill="#000" text-anchor="start" xml:space="preserve" >0.6</text>
<text transform="translate(87.10,126.45) scale(1.0000,1.0650)" font-family="Liberation Serif, serif" font-size="23.10" fill="#000" text-anchor="end" xml:space="preserve" >0.65</text>
<text transform="translate(782.30,126.45) scale(1.0000,1.0650)" font-family="Liberation Serif, serif" font-size="23.10" fill="#000" text-anchor="start" xml:space="preserve" >0.65</text>
<text transform="translate(87.10,81.35) scale(1.0000,1.0650)" font-family="Liberation Serif, serif" font-size="23.10" fill="#000" text-anchor="end" xml:space="preserve" >0.7</text>
<text transform="translate(782.30,81.35) scale(1.0000,1.0650)" font-family="Liberation Serif, serif" font-size="23.10" fill="#000" text-anchor="start" xml:space="preserve" >0.7</text>
<text transform="translate(356.40,587.80) scale(1.0000,1.0000)" font-family="Liberation Serif, serif" font-size="27.60" fill="#000" text-anchor="start" xml:space="preserve" >temperature <tspan font-style="italic">T</tspan></text>
<g transform="translate(31.2,415.6) rotate(-90)"><text transform="translate(0.00,0.00) scale(1.0000,1.0400)" font-family="Liberation Serif, serif" font-size="27.60" fill="#000" text-anchor="start" xml:space="preserve" >Binder cumulant <tspan font-style="italic">Q</tspan></text><text transform="translate(209.30,9.70) scale(1.0000,1.0000)" font-family="Liberation Serif, serif" font-size="19.60" fill="#000" text-anchor="start" xml:space="preserve" >2</text><text transform="translate(221.40,-17.30) scale(1.0000,1.0000)" font-family="Liberation Serif, serif" font-size="19.60" fill="#000" text-anchor="start" xml:space="preserve" >N</text></g>
<text transform="translate(7.40,22.60) scale(1.0000,1.0300)" font-family="Liberation Serif, serif" font-size="32.60" fill="#000" text-anchor="start" xml:space="preserve" font-weight="bold">(c)</text>
<text transform="translate(50.40,22.60) scale(1.0000,1.0300)" font-family="Liberation Serif, serif" font-size="32.60" fill="#000" text-anchor="start" xml:space="preserve" font-weight="bold" font-style="italic">J</text>
<text transform="translate(66.00,36.60) scale(1.0000,1.0300)" font-family="Liberation Serif, serif" font-size="23.00" fill="#000" text-anchor="start" xml:space="preserve" font-weight="bold" font-style="italic">z</text>
<text transform="translate(83.80,22.60) scale(1.1500,1.0300)" font-family="Liberation Serif, serif" font-size="32.60" fill="#000" text-anchor="start" xml:space="preserve" font-weight="bold">=</text>
<text transform="translate(110.10,22.60) scale(1.0000,1.0300)" font-family="Liberation Serif, serif" font-size="32.60" fill="#000" text-anchor="start" xml:space="preserve" font-weight="bold">1/2,</text>
<text transform="translate(175.70,22.60) scale(1.1000,1.0000)" font-family="Liberation Serif, serif" font-size="36.51" fill="#000" text-anchor="start" xml:space="preserve" >α</text>
<text transform="translate(203.10,22.60) scale(1.1500,1.0300)" font-family="Liberation Serif, serif" font-size="32.60" fill="#000" text-anchor="start" xml:space="preserve" font-weight="bold">=</text>
<text transform="translate(230.20,22.60) scale(1.0400,1.0300)" font-family="Liberation Serif, serif" font-size="32.60" fill="#000" text-anchor="start" xml:space="preserve" font-weight="bold">0.2</text>
<polygon points="638.10,120.10 634.72,114.25 641.48,114.25" fill="#a0a0a0" stroke="#000000" stroke-width="1.05" stroke-linejoin="miter"/>
<text transform="translate(664.70,123.60) scale(1.0000,1.0150)" font-family="Liberation Serif, serif" font-size="23.00" fill="#000" text-anchor="start" xml:space="preserve" ><tspan font-style="italic">L</tspan> = 128</text>
<polygon points="634.20,138.58 640.05,135.20 640.05,141.96" fill="#ffa500" stroke="#ff0000" stroke-width="1.05" stroke-linejoin="miter"/>
<text transform="translate(664.70,145.98) scale(1.0000,1.0150)" font-family="Liberation Serif, serif" font-size="23.00" fill="#000" text-anchor="start" xml:space="preserve" ><tspan font-style="italic">L</tspan> = 96</text>
<polygon points="638.10,157.06 641.48,162.91 634.72,162.91" fill="#40e0d0" stroke="#0000ff" stroke-width="1.05" stroke-linejoin="miter"/>
<text transform="translate(664.70,168.36) scale(1.0000,1.0150)" font-family="Liberation Serif, serif" font-size="23.00" fill="#000" text-anchor="start" xml:space="preserve" ><tspan font-style="italic">L</tspan> = 64</text>
<polygon points="638.10,179.94 641.50,183.34 638.10,186.74 634.70,183.34" fill="#00ff00" stroke="#008b00" stroke-width="1.05" stroke-linejoin="miter"/>
<text transform="translate(664.70,190.74) scale(1.0000,1.0150)" font-family="Liberation Serif, serif" font-size="23.00" fill="#000" text-anchor="start" xml:space="preserve" ><tspan font-style="italic">L</tspan> = 48</text>
<rect x="635.45" y="203.07" width="5.30" height="5.30" fill="#ff00ff" stroke="#9400d3" stroke-width="1.05"/>
<text transform="translate(664.70,213.12) scale(1.0000,1.0150)" font-family="Liberation Serif, serif" font-size="23.00" fill="#000" text-anchor="start" xml:space="preserve" ><tspan font-style="italic">L</tspan> = 32</text>
<circle cx="638.10" cy="228.10" r="3.4" fill="#ffff00" stroke="#ffa500" stroke-width="1.05"/>
<text transform="translate(664.70,235.50) scale(1.0000,1.0150)" font-family="Liberation Serif, serif" font-size="23.00" fill="#000" text-anchor="start" xml:space="preserve" ><tspan font-style="italic">L</tspan> = 16</text>
</svg>
</body></html>
